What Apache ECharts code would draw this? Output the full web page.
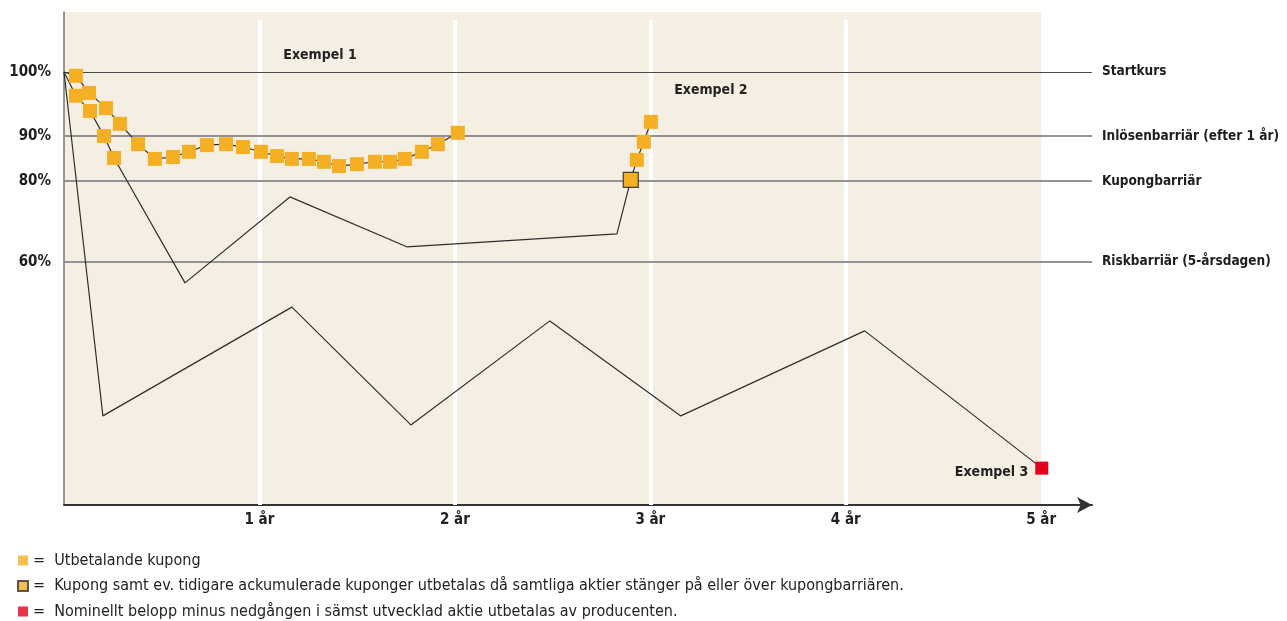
<!DOCTYPE html>
<html>
<head>
<meta charset="utf-8">
<script src="https://cdn.jsdelivr.net/npm/echarts@6/dist/echarts.min.js"></script>
<style>
  html, body { margin: 0; background: #fff; }
  #chart { width: 1287px; height: 621px; }
</style>
</head>
<body>
<div id="chart"></div>
<script>
// schematic scale: 100 = start price, the barrier lines sit where the picture puts them
const levelValues = [100, 86.5, 77.05, 60]
const levelPctLabels = ['100%', '90%', '80%', '60%']
const levelNames = ['Startkurs', 'Inlösenbarriär (efter 1 år)', 'Kupongbarriär', 'Riskbarriär (5-årsdagen)']

const xTickLabels = ['', '1 år', '2 år', '3 år', '4 år', '5 år']
const gridYears = [1, 2, 3, 4]

// Exempel 1 - coupon every month, called after 2 years
const ex1Years = [0, 0.061, 0.128, 0.215, 0.286, 0.379, 0.465, 0.558, 0.639, 0.731, 0.829, 0.916, 1.008,
  1.090, 1.166, 1.253, 1.330, 1.407, 1.499, 1.591, 1.668, 1.744, 1.831, 1.913, 2.015]
const ex1Levels = [100, 99.2, 95.6, 92.4, 89.1, 84.8, 81.7, 82.1, 83.2, 84.6, 84.8, 84.2, 83.2,
  82.3, 81.7, 81.7, 81.1, 80.2, 80.6, 81.1, 81.1, 81.7, 83.2, 84.8, 87.2]

// Exempel 2 - under the coupon barrier for a while, then back up
const ex2Years = [0, 0.061, 0.133, 0.205, 0.256, 0.619, 1.156, 1.754, 2.829, 2.900, 2.931, 2.967, 3.003]
const ex2Levels = [100, 95.0, 91.8, 86.5, 81.9, 55.6, 73.7, 63.2, 65.9, 77.3, 81.5, 85.3, 89.5]
const ex2Marks = ['', 'kupong', 'kupong', 'kupong', 'kupong', '', '', '', '', 'ackumulerad', 'kupong', 'kupong', 'kupong']

// Exempel 3 - ends under the risk barrier
const ex3Years = [0, 0.199, 1.166, 1.775, 2.486, 3.156, 4.097, 5.003]
const ex3Levels = [100, 27.6, 50.5, 25.7, 47.6, 27.6, 45.5, 16.6]

const legendTexts = [
  'Utbetalande kupong',
  'Kupong samt ev. tidigare ackumulerade kuponger utbetalas då samtliga aktier stänger på eller över kupongbarriären.',
  'Nominellt belopp minus nedgången i sämst utvecklad aktie utbetalas av producenten.'
]

const YELLOW = '#F5AF25'
const RED = '#E2001A'
const BEIGE = '#F4EFE2'
const FONT = '"Liberation Sans Narrow", "DejaVu Sans Condensed", sans-serif'

const Y_MIN = 8.84
const Y_MAX = 112.63

const chart = echarts.init(document.getElementById('chart'), null, { renderer: 'canvas' })

const couponItem = (x, y) => ({ value: [x, y], symbol: 'rect', symbolSize: 14, itemStyle: { color: YELLOW } })
const plainItem = (x, y) => ({ value: [x, y], symbol: 'none' })

const ex1Data = ex1Years.map((x, i) => i === 0 ? plainItem(x, ex1Levels[i]) : couponItem(x, ex1Levels[i]))
const ex2Data = ex2Years.map((x, i) => {
  if (ex2Marks[i] === 'kupong') return couponItem(x, ex2Levels[i])
  if (ex2Marks[i] === 'ackumulerad') {
    return { value: [x, ex2Levels[i]], symbol: 'rect', symbolSize: 15,
      itemStyle: { color: YELLOW, borderColor: 'rgba(40,40,40,0.85)', borderWidth: 1.2 } }
  }
  return plainItem(x, ex2Levels[i])
})
const ex3Data = ex3Years.map((x, i) => {
  if (i === ex3Years.length - 1) {
    return { value: [x, ex3Levels[i]], symbol: 'rect', symbolSize: 13, itemStyle: { color: RED },
      label: { show: true, position: 'left', distance: 7, offset: [0, 4], formatter: 'Exempel 3',
        color: '#222', fontFamily: FONT, fontWeight: 'bold', fontSize: 14 } }
  }
  return plainItem(x, ex3Levels[i])
})

const barrierLines = []
levelValues.forEach((v, i) => {
  const ls = i === 0 ? { color: '#4a4a4a', width: 1, type: 'solid' } : { color: '#8d8d8d', width: 1.6, type: 'solid' }
  barrierLines.push({ yAxis: v, lineStyle: ls,
    label: { show: true, position: 'start', distance: 13, formatter: levelPctLabels[i],
      color: '#1e1e1e', fontFamily: FONT, fontWeight: 'bold', fontSize: 15 } })
  barrierLines.push({ yAxis: v, lineStyle: ls,
    label: { show: true, position: 'end', distance: 10, formatter: levelNames[i],
      color: '#1e1e1e', fontFamily: FONT, fontWeight: 'bold', fontSize: 13.5 } })
})

const lineStyle = { color: '#2e2e2e', width: 1.2 }

const option = {
  animation: false,
  backgroundColor: '#fff',
  grid: { left: 64, right: 195, top: 12, bottom: 116 },
  xAxis: {
    type: 'value', min: 0, max: 5.26, interval: 1,
    axisLine: { show: true, symbol: ['none', 'arrow'], symbolSize: [12, 15], symbolOffset: [0, 0],
      lineStyle: { color: '#333', width: 2 } },
    axisTick: { show: false },
    splitLine: { show: false },
    axisLabel: { margin: 8, color: '#222', fontFamily: FONT, fontWeight: 'bold', fontSize: 15,
      formatter: v => xTickLabels[v] || '' }
  },
  yAxis: {
    type: 'value', min: Y_MIN, max: Y_MAX,
    axisLine: { show: true, lineStyle: { color: '#777', width: 1.5 } },
    axisTick: { show: false },
    axisLabel: { show: false },
    splitLine: { show: false }
  },
  legend: {
    orient: 'vertical', left: 17, top: 551, itemWidth: 10, itemHeight: 10, itemGap: 6.5,
    icon: 'rect', selectedMode: false, padding: 0,
    textStyle: { color: '#222', fontFamily: FONT, fontSize: 16, lineHeight: 19 },
    formatter: name => '=  ' + name,
    data: legendTexts
  },
  series: [
    {
      // beige plot area
      type: 'line', data: [], z: 0, silent: true,
      markArea: { silent: true, z: 0, itemStyle: { color: BEIGE },
        data: [[{ xAxis: 0, yAxis: Y_MIN }, { xAxis: 5, yAxis: Y_MAX }]] }
    },
    {
      // white year lines
      type: 'line', data: [], z: 1, silent: true,
      markLine: { silent: true, z: 1, symbol: ['none', 'none'], label: { show: false },
        lineStyle: { color: '#fff', width: 4, type: 'solid' },
        data: gridYears.map(y => [{ coord: [y, 110.95] }, { coord: [y, Y_MIN] }]) }
    },
    {
      // barriers
      type: 'line', data: [], z: 2, silent: true,
      markLine: { silent: true, z: 2, symbol: ['none', 'none'], data: barrierLines }
    },
    {
      name: 'Exempel 1', type: 'line', z: 6, data: ex1Data, lineStyle, itemStyle: { color: YELLOW },
      markPoint: { symbol: 'rect', symbolSize: 1, itemStyle: { color: 'rgba(0,0,0,0)' },
        label: { show: true, color: '#222', fontFamily: FONT, fontWeight: 'bold', fontSize: 14, formatter: '{b}' },
        data: [{ name: 'Exempel 1', coord: [1.31, 103.6] }] }
    },
    {
      name: 'Exempel 2', type: 'line', z: 6, data: ex2Data, lineStyle, itemStyle: { color: YELLOW },
      markPoint: { symbol: 'rect', symbolSize: 1, itemStyle: { color: 'rgba(0,0,0,0)' },
        label: { show: true, color: '#222', fontFamily: FONT, fontWeight: 'bold', fontSize: 14, formatter: '{b}' },
        data: [{ name: 'Exempel 2', coord: [3.31, 96.2] }] }
    },
    { name: 'Exempel 3', type: 'line', z: 6, data: ex3Data, lineStyle, itemStyle: { color: RED } },
    // legend entries
    { name: legendTexts[0], type: 'scatter', data: [], itemStyle: { color: YELLOW } },
    { name: legendTexts[1], type: 'scatter', data: [], itemStyle: { color: YELLOW, borderColor: '#333', borderWidth: 1 } },
    { name: legendTexts[2], type: 'scatter', data: [], itemStyle: { color: RED } }
  ]
}

chart.setOption(option)
</script>
</body>
</html>
